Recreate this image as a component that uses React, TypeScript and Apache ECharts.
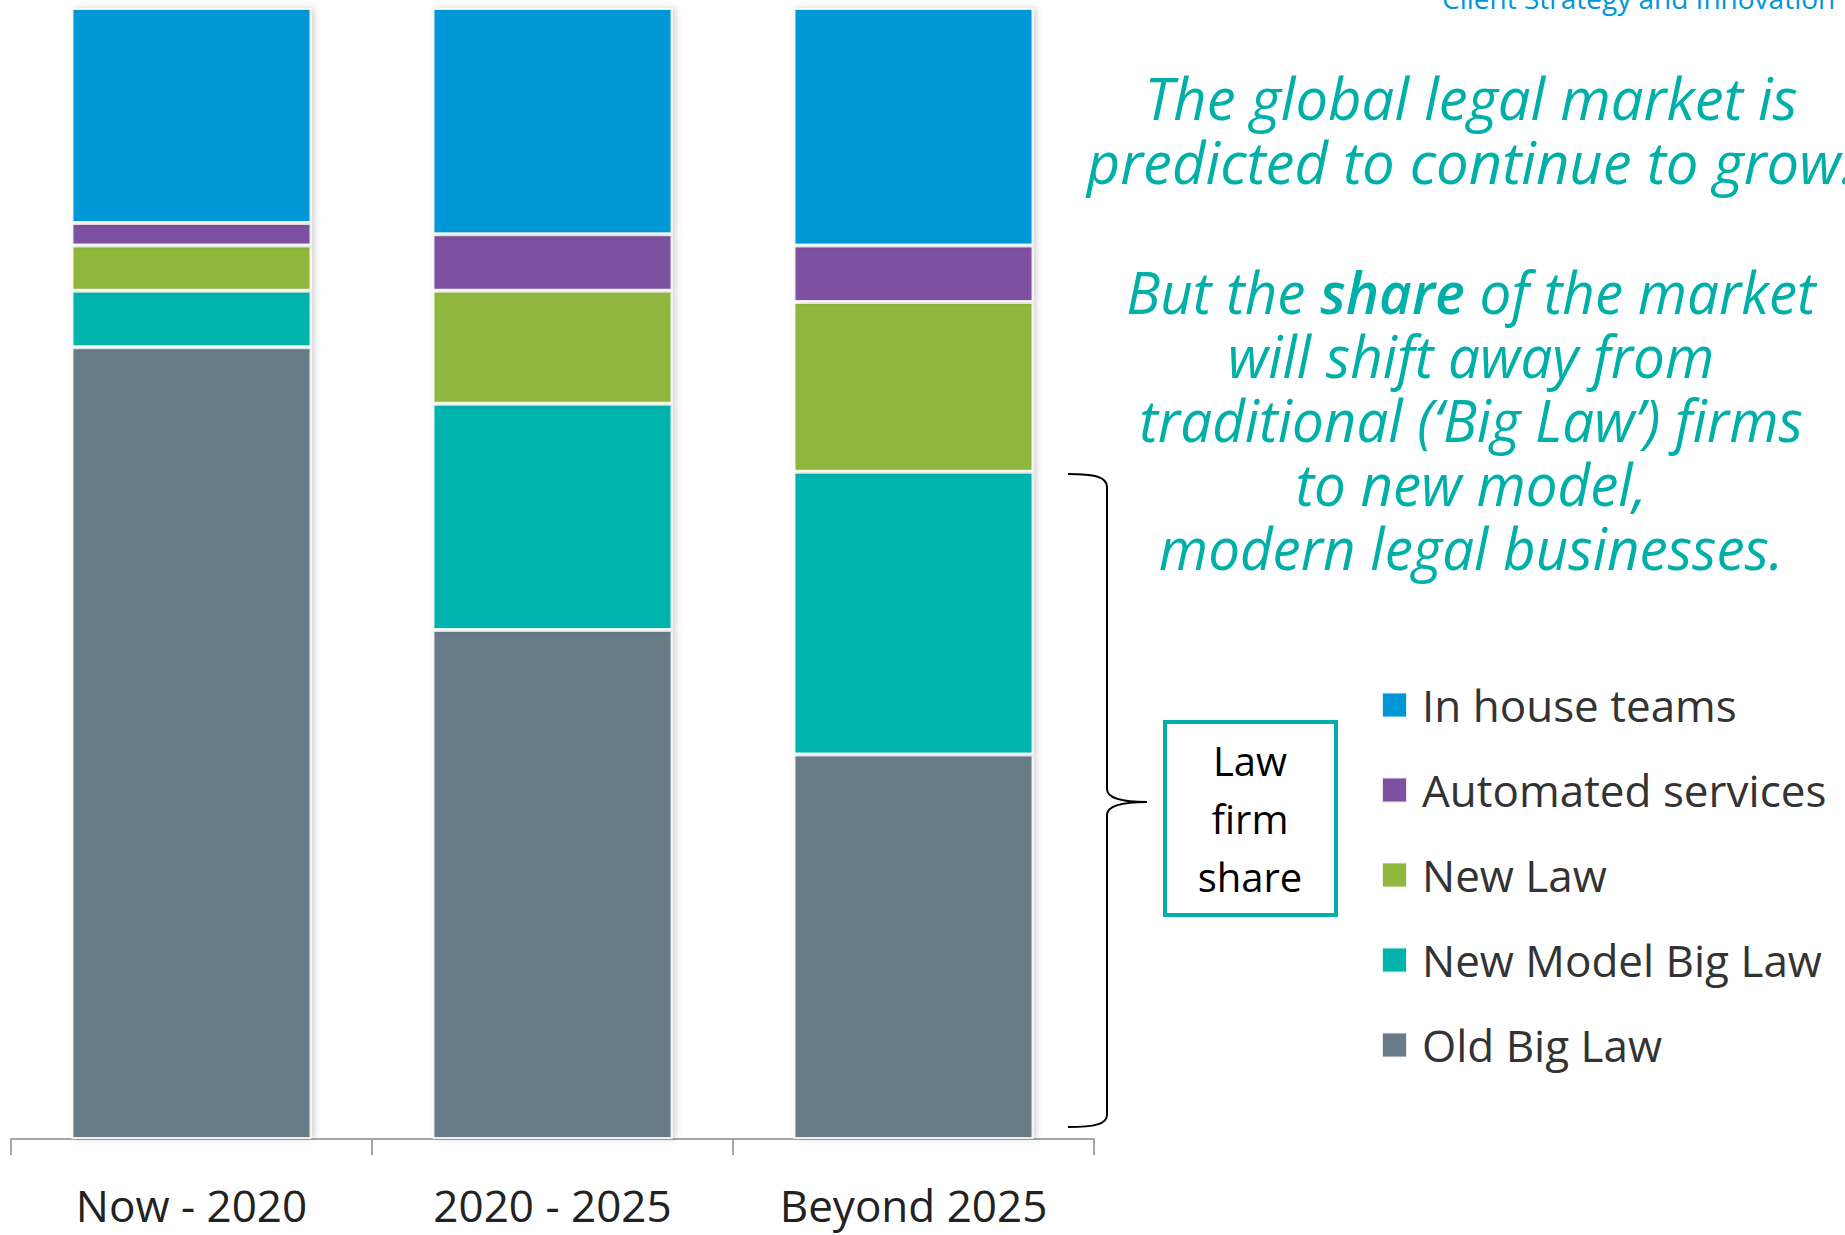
import React, { useEffect, useRef } from "react";
import * as echarts from "echarts";

const categories = ["Now - 2020", "2020 - 2025", "Beyond 2025"];
const oldBigLaw = [70, 45, 34];
const newModelBigLaw = [5, 20, 25];
const newLaw = [4, 10, 15];
const automatedServices = [2, 5, 5];
const inHouseTeams = [19, 20, 21];

const seriesNames = ["Old Big Law", "New Model Big Law", "New Law", "Automated services", "In house teams"];
const seriesColors = ["#677c88", "#00b3ad", "#90b73e", "#7d51a0", "#0097d7"];
const legendOrder = ["In house teams", "Automated services", "New Law", "New Model Big Law", "Old Big Law"];

const headerText = "Client Strategy and Innovation";
const paragraph1 = ["The global legal market is", "predicted to continue to grow."];
const paragraph2Lines = [
  "{n|But the }{b|share}{n| of the market}",
  "{n|will shift away from}",
  "{n|traditional (\u2018Big Law\u2019) firms}",
  "{n|to new model,}",
  "{n|modern legal businesses.}",
];
const boxText = ["Law", "firm", "share"];

const braceD =
  "M1068,474 C1095,474 1107,477 1107,487 L1107,789 C1107,798 1122,802 1147,802 C1122,802 1107,806 1107,815 L1107,1115 C1107,1124 1095,1127 1068,1127";

let braceRegistered = false;

export default function App() {
  const ref = useRef<HTMLDivElement>(null);
  useEffect(() => {
    if (!ref.current) return;
    if (!braceRegistered) {
      echarts.graphic.registerShape("brace", echarts.graphic.extendPath(braceD, {}));
      braceRegistered = true;
    }
    const chart = echarts.init(ref.current, null, { renderer: "svg" });
    const data = [oldBigLaw, newModelBigLaw, newLaw, automatedServices, inHouseTeams];
    const teal = "#00b0a8";
    const italicFont = "Open Sans";
    const option: any = {
      animation: false,
      backgroundColor: "#ffffff",
      grid: { left: 11, right: 751, top: 8, bottom: 96, containLabel: false },
      xAxis: {
        type: "category",
        data: categories,
        axisLine: { show: true, lineStyle: { color: "#a6a6a6", width: 2 } },
        axisTick: { show: true, length: 16, lineStyle: { color: "#a6a6a6", width: 2 } },
        axisLabel: { color: "#222222", fontSize: 44, fontFamily: "Open Sans", margin: 44 },
      },
      yAxis: { type: "value", min: 0, max: 100, show: false, splitLine: { show: false } },
      legend: {
        data: legendOrder,
        orient: "vertical",
        left: 1381,
        top: 680,
        padding: 0,
        itemWidth: 25,
        itemHeight: 25,
        itemGap: 35,
        icon: "rect",
        selectedMode: false,
        textStyle: {
          fontSize: 44,
          lineHeight: 50,
          color: "#333333",
          fontFamily: "Open Sans",
          padding: [0, 0, 0, 10],
        },
      },
      series: seriesNames.map((name, i) => ({
        name,
        type: "bar",
        stack: "total",
        barWidth: 240,
        data: data[i],
        itemStyle: {
          color: seriesColors[i],
          borderColor: "rgba(255,255,255,0.85)",
          borderWidth: 2,
          shadowColor: "rgba(0,0,0,0.18)",
          shadowBlur: 6,
          shadowOffsetX: 3,
        },
      })),
      graphic: [
        {
          type: "text",
          x: 1442,
          y: 12,
          style: {
            text: headerText,
            fontSize: 28,
            fontFamily: "Open Sans",
            fill: "#0096d6",
            align: "left",
            verticalAlign: "bottom",
          },
        },
        {
          type: "text",
          x: 1471,
          y: 65,
          style: {
            text: paragraph1.join("\n"),
            fontSize: 58,
            fontStyle: "italic",
            fontFamily: italicFont,
            fill: teal,
            align: "center",
            verticalAlign: "top",
            lineHeight: 64,
          },
        },
        {
          type: "text",
          x: 1471,
          y: 260,
          scaleX: 0.975,
          style: {
            text: paragraph2Lines.join("\n"),
            fontSize: 58,
            fontStyle: "italic",
            fontFamily: italicFont,
            fill: teal,
            align: "center",
            verticalAlign: "top",
            lineHeight: 64,
            rich: {
              n: { fontSize: 58, fontStyle: "italic", fontFamily: italicFont, fill: teal, lineHeight: 64 },
              b: { fontSize: 58, fontStyle: "italic", fontWeight: 600, fontFamily: italicFont, fill: teal, lineHeight: 64 },
            },
          },
        },
        {
          type: "rect",
          shape: { x: 1165, y: 722, width: 171, height: 193 },
          style: { fill: "#ffffff", stroke: teal, lineWidth: 4 },
        },
        {
          type: "text",
          x: 1250,
          y: 731,
          style: {
            text: boxText.join("\n"),
            fontSize: 40,
            fontFamily: "Open Sans",
            fill: "#000000",
            align: "center",
            verticalAlign: "top",
            lineHeight: 58,
          },
        },
        {
          type: "brace",
          x: 0,
          y: 0,
          style: { stroke: "#000000", fill: "none", lineWidth: 2 },
        },
      ],
    };
    chart.setOption(option);
    return () => chart.dispose();
  }, []);
  return (
    <div
      ref={ref}
      style={{ position: "absolute", left: 0, top: 0, width: 1845, height: 1235, background: "#fff" }}
    />
  );
}
